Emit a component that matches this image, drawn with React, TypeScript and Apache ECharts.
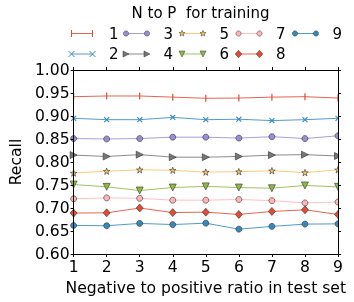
import React, { useEffect, useRef } from "react";
import * as echarts from "echarts";

const xValues = [1, 2, 3, 4, 5, 6, 7, 8, 9];
const seriesNames = ["1", "2", "3", "4", "5", "6", "7", "8", "9"];
const s1 = [0.942, 0.9435, 0.9435, 0.941, 0.9385, 0.939, 0.941, 0.942, 0.939];
const s2 = [0.895, 0.892, 0.892, 0.897, 0.892, 0.893, 0.89, 0.892, 0.895];
const s3 = [0.851, 0.85, 0.851, 0.854, 0.854, 0.852, 0.855, 0.851, 0.857];
const s4 = [0.815, 0.812, 0.816, 0.8105, 0.8105, 0.812, 0.815, 0.816, 0.813];
const s5 = [0.776, 0.78, 0.783, 0.782, 0.778, 0.779, 0.781, 0.777, 0.783];
const s6 = [0.751, 0.746, 0.738, 0.7445, 0.747, 0.7445, 0.743, 0.749, 0.746];
const s7 = [0.72, 0.722, 0.721, 0.717, 0.717, 0.7185, 0.716, 0.711, 0.713];
const s8 = [0.689, 0.6895, 0.7, 0.69, 0.691, 0.686, 0.6925, 0.696, 0.686];
const s9 = [0.662, 0.6615, 0.6665, 0.664, 0.667, 0.654, 0.66, 0.665, 0.6655];
const allSeries = [s1, s2, s3, s4, s5, s6, s7, s8, s9];
const colors = ["#E24A33", "#348ABD", "#988ED5", "#777777", "#FBC15E", "#8EBA42", "#FFB5B8", "#E24A33", "#348ABD"];

const legendTitle = "N to P  for training";
const xTitle = "Negative to positive ratio in test set";
const yTitle = "Recall";

const FONT = "DejaVu Sans";
const FS = 15.6;

const STAR = "path://M5,0L6.176,3.382L9.755,3.455L6.902,5.618L7.939,9.045L5,7L2.061,9.045L3.098,5.618L0.245,3.455L3.824,3.382Z";
const PLUS = "path://M4.2,0H5.8V4.2H10V5.8H5.8V10H4.2V5.8H0V4.2H4.2Z";
const TRI_RIGHT = "path://M0,0L10,5L0,10Z";
const TRI_DOWN = "path://M0,0L10,0L5,10Z";

const markerDefs: any[] = [
  { symbol: "rect", symbolSize: [1.2, 7], border: false },
  { symbol: PLUS, symbolSize: 7, symbolRotate: 45, border: false },
  { symbol: "circle", symbolSize: 6, border: true },
  { symbol: TRI_RIGHT, symbolSize: 7, border: true },
  { symbol: STAR, symbolSize: 6.5, border: true },
  { symbol: TRI_DOWN, symbolSize: 7, border: true },
  { symbol: "circle", symbolSize: 6, border: true },
  { symbol: "diamond", symbolSize: [7, 8], border: true },
  { symbol: "circle", symbolSize: 6, border: true },
];

function legendMarker(i: number, cx: number, cy: number): any[] {
  const c = colors[i];
  const edge = { stroke: "#333", lineWidth: 0.5 };
  const s = 3;
  switch (i) {
    case 0:
      return [{ type: "line", shape: { x1: cx, y1: cy - 3.5, x2: cx, y2: cy + 3.5 }, style: { stroke: c, lineWidth: 1 } }];
    case 1:
      return [
        { type: "line", shape: { x1: cx - s, y1: cy - s, x2: cx + s, y2: cy + s }, style: { stroke: c, lineWidth: 1 } },
        { type: "line", shape: { x1: cx - s, y1: cy + s, x2: cx + s, y2: cy - s }, style: { stroke: c, lineWidth: 1 } },
      ];
    case 3:
      return [{ type: "polygon", shape: { points: [[cx - s, cy - s], [cx + s, cy], [cx - s, cy + s]] }, style: { fill: c, ...edge } }];
    case 4: {
      const pts: number[][] = [];
      for (let k = 0; k < 10; k++) {
        const r = k % 2 === 0 ? 3.2 : 1.3;
        const a = (-90 + k * 36) * Math.PI / 180;
        pts.push([cx + r * Math.cos(a), cy + r * Math.sin(a)]);
      }
      return [{ type: "polygon", shape: { points: pts }, style: { fill: c, ...edge } }];
    }
    case 5:
      return [{ type: "polygon", shape: { points: [[cx - s, cy - s], [cx + s, cy - s], [cx, cy + s]] }, style: { fill: c, ...edge } }];
    case 7:
      return [{ type: "polygon", shape: { points: [[cx, cy - 3.8], [cx + 3.3, cy], [cx, cy + 3.8], [cx - 3.3, cy]] }, style: { fill: c, ...edge } }];
    default:
      return [{ type: "circle", shape: { cx, cy, r: 2.6 }, style: { fill: c, ...edge } }];
  }
}

export default function App() {
  const ref = useRef<HTMLDivElement>(null);
  useEffect(() => {
    if (!ref.current) return;
    const chart = echarts.init(ref.current, undefined, { renderer: "svg" });

    const colX = [71.5, 126, 182, 238.5, 295];
    const rowY = [33.5, 54];
    const graphics: any[] = [
      { type: "rect", shape: { x: 0, y: 62, width: 61.8, height: 200 }, style: { fill: "#fff" }, z: 3 },
      { type: "rect", shape: { x: 338.8, y: 62, width: 16, height: 200 }, style: { fill: "#fff" }, z: 3 },
      {
        type: "text", x: 200.5, y: 12.5, z: 10,
        style: { text: legendTitle, font: `15px '${FONT}'`, fill: "#000", textAlign: "center", textVerticalAlign: "middle" },
      },
    ];
    seriesNames.forEach((name, i) => {
      const x0 = colX[Math.floor(i / 2)];
      const y0 = rowY[i % 2];
      graphics.push({ type: "line", shape: { x1: x0, y1: y0, x2: x0 + 21, y2: y0 }, style: { stroke: colors[i], lineWidth: 1, opacity: 0.85 }, z: 10 });
      legendMarker(i, x0, y0).forEach((m) => graphics.push({ ...m, z: 11 }));
      legendMarker(i, x0 + 21, y0).forEach((m) => graphics.push({ ...m, z: 11 }));
      graphics.push({
        type: "text", x: x0 + 37.5, y: y0, z: 10,
        style: { text: name, font: `15px '${FONT}'`, fill: "#000", textAlign: "left", textVerticalAlign: "middle" },
      });
    });

    const axisCommon = {
      axisLine: { show: true, onZero: false, lineStyle: { color: "#000", width: 1 } },
      axisTick: { show: true, inside: false, length: 3, lineStyle: { color: "#000", width: 1 } },
      splitLine: { show: false },
      z: 5,
    };

    const option: any = {
      animation: false,
      textStyle: { fontFamily: FONT },
      grid: { left: 62, top: 70, width: 276, height: 184, containLabel: false },
      xAxis: [
        {
          type: "value", min: 1, max: 9, interval: 1, position: "bottom",
          name: xTitle, nameLocation: "middle", nameGap: 23,
          nameTextStyle: { fontSize: FS, color: "#000", fontFamily: FONT },
          axisLabel: { fontSize: FS, color: "#000", margin: 5, fontFamily: FONT },
          ...axisCommon,
        },
        { type: "value", min: 1, max: 9, interval: 1, position: "top", axisLabel: { show: false }, ...axisCommon },
      ],
      yAxis: [
        {
          type: "value", min: 0.6, max: 1.0, interval: 0.05, position: "left",
          name: yTitle, nameLocation: "middle", nameGap: 44,
          nameTextStyle: { fontSize: FS, color: "#000", fontFamily: FONT },
          axisLabel: { fontSize: FS, color: "#000", margin: 4, fontFamily: FONT, formatter: (v: number) => v.toFixed(2) },
          ...axisCommon,
        },
        { type: "value", min: 0.6, max: 1.0, interval: 0.05, position: "right", axisLabel: { show: false }, ...axisCommon },
      ],
      graphic: graphics,
      series: allSeries.map((vals, i) => {
        const m = markerDefs[i];
        return {
          name: seriesNames[i],
          type: "line",
          xAxisIndex: 0,
          yAxisIndex: 0,
          data: xValues.map((x, j) => [x, vals[j]]),
          symbol: m.symbol,
          symbolSize: m.symbolSize,
          symbolRotate: m.symbolRotate || 0,
          showSymbol: true,
          lineStyle: { color: colors[i], width: 1, opacity: 0.85 },
          itemStyle: m.border
            ? { color: colors[i], borderColor: "#333", borderWidth: 0.6 }
            : { color: colors[i], borderWidth: 0 },
          z: 2,
        };
      }),
    };
    chart.setOption(option);
    return () => chart.dispose();
  }, []);
  return <div ref={ref} style={{ position: "fixed", left: 0, top: 0, width: 354, height: 302 }} />;
}
